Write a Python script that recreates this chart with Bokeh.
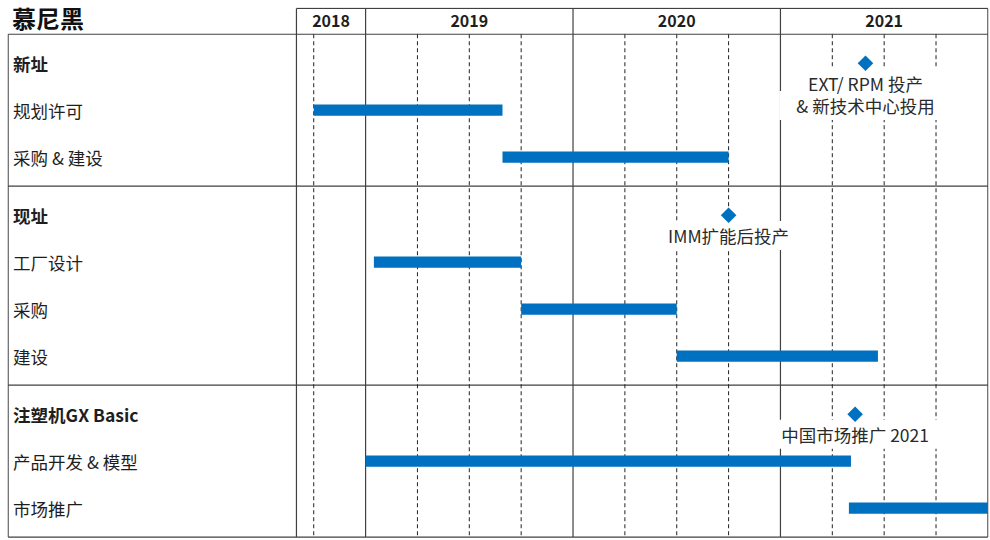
import math
from bokeh.plotting import figure
from bokeh.models import Range1d
from bokeh.embed import file_html
from bokeh.resources import INLINE
from bokeh.core.properties import value

# ---------------- data ----------------
title = "慕尼黑"
years = [2018, 2019, 2020, 2021]
timeline_start = 2018 + 8 / 12   # timeline begins Sep 2018
timeline_end = 2022.0

sections = ["新址", "现址", "注塑机GX Basic"]
section_tasks = [["规划许可", "采购 & 建设"],
                 ["工厂设计", "采购", "建设"],
                 ["产品开发 & 模型", "市场推广"]]
task_start = [[2018.75, 2019.66], [2019.04, 2019.75, 2020.50], [2019.00, 2021.33]]
task_end = [[2019.66, 2020.75], [2019.75, 2020.50, 2021.47], [2021.34, 2022.00]]
milestone_date = [2021.41, 2020.75, 2021.36]
milestone_text = ["EXT/ RPM 投产\n& 新技术中心投用", "IMM扩能后投产", "中国市场推广 2021"]

# ---------------- layout ----------------
FONT = value("Noto Sans CJK SC")
BLUE = "#0070C0"
LINE = "#404040"
TXT = "#1e1e1e"
PX = 207.6                      # px per year (approx)
label_col = 1.39                # width of label column in years
left_border = timeline_start - label_col
PAD = 0.62                      # row padding at section borders
HEADER_H = 0.55

header_bottom = -PAD
header_top = header_bottom - HEADER_H

rows_y, rows_label, rows_bold = [], [], []
bar_y, bar_l, bar_r = [], [], []
ms_x, ms_y = [], []
separators = []
y = header_bottom
for s, name in enumerate(sections):
    y += PAD
    rows_y.append(y); rows_label.append(name); rows_bold.append(True)
    ms_x.append(milestone_date[s]); ms_y.append(y)
    for j, t in enumerate(section_tasks[s]):
        y += 1
        rows_y.append(y); rows_label.append(t); rows_bold.append(False)
        bar_y.append(y); bar_l.append(task_start[s][j]); bar_r.append(task_end[s][j])
    y += PAD
    separators.append(y)
bottom = separators[-1]

W, H = 990, 540
p = figure(width=W, height=H, output_backend="svg", toolbar_location=None,
           x_range=Range1d(left_border - 0.003, timeline_end + 0.003),
           y_range=Range1d(bottom + 0.03, header_top - 0.02),
           min_border_left=7, min_border_top=7, min_border_right=2, min_border_bottom=2,
           outline_line_color=None, x_axis_type=None, y_axis_type=None)
p.xgrid.visible = False
p.ygrid.visible = False
p.background_fill_color = "white"
p.border_fill_color = "white"

# horizontal rules
hx0 = [timeline_start, left_border] + [left_border] * len(separators)
hy = [header_top, header_bottom] + separators
hx1 = [timeline_end] * len(hy)
p.segment(x0=hx0, y0=hy, x1=hx1, y1=hy, line_color=LINE, line_width=1.2)

# vertical solid lines
vx = [left_border, timeline_start] + years[1:] + [timeline_end]
vy0 = [header_bottom] + [header_top] * (len(vx) - 1)
vy1 = [bottom] * len(vx)
p.segment(x0=vx, y0=vy0, x1=vx, y1=vy1, line_color=LINE, line_width=1.2)

# dashed quarter lines
qx = []
for yr in years:
    for q in (0.25, 0.5, 0.75):
        v = yr + q
        if timeline_start < v < timeline_end:
            qx.append(v)
p.segment(x0=qx, y0=[header_bottom] * len(qx), x1=qx, y1=[bottom] * len(qx),
          line_color="#222222", line_width=1, line_dash="4 3")

# year header labels
yc = [(max(yr, timeline_start) + min(yr + 1, timeline_end)) / 2 for yr in years]
p.text(x=yc, y=[(header_top + header_bottom) / 2] * len(years), text=[str(v) for v in years],
       text_font=FONT, text_font_size="16px", text_font_style="bold", text_color=TXT,
       text_align="center", text_baseline="middle")

# title
p.text(x=[left_border + 4 / PX], y=[(header_top + header_bottom) / 2 - 0.09], text=[title],
       text_font=FONT, text_font_size="24px", text_font_style="bold", text_color="#111111",
       text_align="left", text_baseline="middle")

# row labels
lx = left_border + 5 / PX
for bold in (True, False):
    ys = [yy for yy, b in zip(rows_y, rows_bold) if b == bold]
    ls = [l for l, b in zip(rows_label, rows_bold) if b == bold]
    p.text(x=[lx] * len(ys), y=ys, text=ls, text_font=FONT, text_font_size="17.5px",
           text_font_style="bold" if bold else "normal", text_color=TXT,
           text_align="left", text_baseline="middle")

# bars
p.hbar(y=bar_y, left=bar_l, right=bar_r, height=0.24, fill_color=BLUE, line_color=None)

# milestone texts: white boxes first, then the texts on top
tx, ty, tt = [], [], []
for x0, y0, t in zip(ms_x, ms_y, milestone_text):
    for k, line in enumerate(t.split("\n")):
        tx.append(x0); ty.append(y0 + 0.43 + 0.47 * k); tt.append(line)
p.text(x=tx, y=ty, text=tt, text_font=FONT, text_font_size="17.5px", text_alpha=0,
       text_align="center", text_baseline="middle",
       background_fill_color="white", padding=(17, 2))
p.text(x=tx, y=ty, text=tt, text_font=FONT, text_font_size="17.5px", text_color="#2a2a2a",
       text_align="center", text_baseline="middle")

# milestone diamonds
p.scatter(x=ms_x, y=ms_y, marker="square", angle=math.pi / 4, size=11,
          fill_color=BLUE, line_color=None)

open("out.html", "w").write(file_html(p, INLINE))
